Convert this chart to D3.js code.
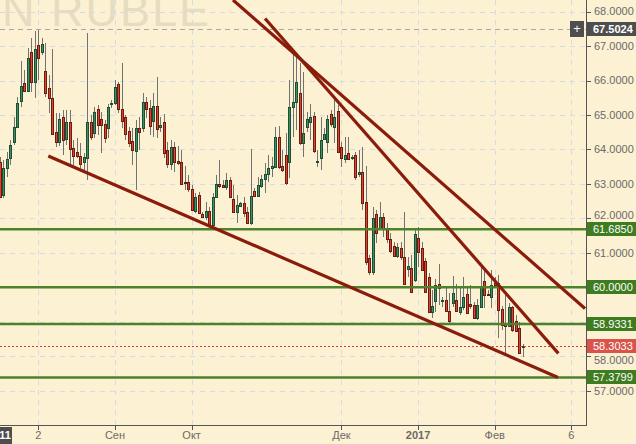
<!DOCTYPE html>
<html><head><meta charset="utf-8">
<script src="https://cdn.jsdelivr.net/npm/d3@7"></script>
<style>html,body{margin:0;padding:0;background:#fdf1d3;} svg{display:block}</style>
</head><body><svg id="c" width="636" height="444"></svg>
<script>
// ---- data (bar index = trading day, prices in RUB) ----
const opens  = [63.64,62.68,63.47,63.76,64.22,64.64,65.41,65.92,65.70,66.82,65.95,67.03,66.84,66.28,65.77,65.48,64.51,64.22,64.93,64.30,64.80,64.03,63.92,63.82,63.64,63.76,64.79,64.47,65.16,64.87,64.73,64.61,65.32,65.34,65.89,65.16,64.93,64.53,64.24,63.96,64.61,64.62,65.37,65.19,64.82,65.25,64.64,64.79,63.98,63.57,64.06,63.67,63.63,63.05,63.05,62.84,62.22,62.68,62.12,62.05,62.20,61.81,62.61,62.99,62.97,62.92,63.10,62.55,62.19,62.37,62.44,62.17,61.87,62.79,62.66,62.95,63.13,63.28,63.45,63.50,64.35,63.52,63.83,63.63,65.22,65.37,65.63,64.18,64.66,64.81,64.97,63.64,63.74,64.31,64.22,65.02,64.66,65.11,64.06,63.73,63.89,63.74,63.83,63.28,63.34,62.46,60.84,60.45,62.12,61.73,62.03,61.73,61.39,61.20,60.92,61.13,60.89,60.52,60.56,60.22,61.42,61.13,60.76,60.31,59.27,59.60,60.09,59.62,59.63,59.31,59.53,59.64,59.28,59.43,59.79,59.50,59.47,59.10,59.43,60.17,59.80,59.71,60.13,60.11,59.36,58.93,58.87,59.42,59.01,58.81,58.26];
const highs  = [63.79,63.69,63.93,64.27,64.95,65.53,66.57,66.31,66.94,67.22,67.44,67.47,67.22,67.08,66.16,66.91,65.05,65.07,65.14,65.14,65.14,64.27,64.32,64.18,63.89,67.37,65.00,65.24,65.29,65.09,64.85,65.32,65.43,66.01,65.97,66.50,65.00,64.66,64.61,64.85,64.95,65.63,65.52,65.43,65.64,66.09,64.95,65.03,64.22,64.27,64.22,64.10,63.98,63.52,63.26,62.97,62.73,62.77,62.19,62.48,62.34,62.73,63.26,63.69,63.11,63.31,63.21,62.97,62.68,62.48,62.63,62.34,64.00,62.87,63.21,63.26,63.60,63.84,63.79,64.66,64.68,63.98,64.47,66.01,66.89,66.81,66.50,66.26,65.09,65.32,65.09,63.98,64.93,64.61,65.00,65.14,65.53,65.29,64.22,64.35,64.37,63.84,63.93,63.98,64.08,63.52,60.94,62.34,62.24,62.48,62.16,61.86,61.56,61.32,61.27,61.32,62.19,60.89,60.94,61.71,61.76,61.32,60.84,60.40,59.92,60.24,60.67,59.72,60.04,59.82,60.32,60.09,60.04,60.29,60.04,60.06,59.58,59.65,60.59,60.53,59.92,60.50,60.30,60.35,59.45,59.77,59.53,59.45,59.19,59.00,58.34];
const lows   = [62.58,62.59,63.21,63.55,64.13,64.61,65.24,65.68,65.68,65.68,65.48,66.01,66.74,65.53,65.05,64.42,64.08,64.11,63.84,64.13,63.55,63.55,63.74,63.45,63.35,63.11,64.27,64.32,64.42,63.90,64.18,64.32,65.19,65.29,65.05,64.61,64.27,64.08,63.55,62.82,63.98,64.51,64.91,64.42,64.37,64.32,64.51,63.74,63.45,63.40,63.35,63.55,62.97,62.82,62.77,62.22,62.15,62.12,62.00,61.95,61.76,61.76,62.58,62.87,62.87,62.82,62.61,62.15,61.85,62.34,62.05,61.85,61.81,62.63,62.63,62.87,62.74,63.06,63.21,63.45,63.42,63.35,62.97,63.16,64.37,64.56,64.13,63.79,64.51,64.27,63.89,63.50,63.40,64.27,63.89,64.66,64.18,63.89,63.50,63.60,63.69,63.69,63.11,63.21,62.24,60.64,60.35,60.35,61.27,61.66,61.47,61.27,60.98,60.87,60.84,60.79,60.06,60.30,59.82,60.16,60.60,60.46,59.83,59.24,59.12,59.27,59.48,59.43,59.27,58.97,59.43,59.27,59.18,59.34,59.24,59.37,59.07,59.05,59.40,59.41,59.75,59.41,60.04,58.52,58.76,58.03,58.85,58.71,58.71,58.06,57.98];
const closes = [62.63,63.45,63.71,64.13,64.64,65.34,65.84,65.70,66.65,65.95,66.91,66.65,67.05,65.65,65.48,64.44,64.22,64.87,64.27,64.80,64.00,63.82,63.82,63.59,63.77,64.79,64.35,65.08,64.71,64.71,64.32,65.22,65.35,65.80,65.16,64.83,64.44,64.18,63.97,64.61,64.51,65.38,65.16,64.69,65.25,64.58,64.70,63.89,63.57,64.06,63.64,63.61,62.99,63.02,62.84,62.24,62.61,62.16,62.03,62.20,61.81,62.61,62.99,62.94,62.92,63.10,62.63,62.19,62.39,62.44,62.15,61.87,62.65,62.66,62.96,63.14,63.29,63.47,63.52,64.35,63.50,63.40,63.02,65.22,65.37,65.97,64.18,64.47,64.87,64.93,63.96,63.66,64.27,64.44,64.87,64.75,64.95,63.93,63.74,63.85,63.73,63.78,63.21,63.34,62.44,60.74,60.45,62.00,61.56,62.03,61.73,61.39,61.05,60.92,61.18,60.89,60.08,60.62,59.85,61.54,61.02,60.49,59.85,59.27,59.45,60.06,59.99,59.64,59.30,59.01,59.82,59.30,59.42,59.71,59.24,59.46,59.10,59.47,60.03,59.76,59.78,60.05,60.06,59.33,58.90,58.87,59.42,58.76,58.73,58.08,58.3033];

const levelValues = [61.6850, 60.0000, 58.9331, 57.3799];
const lastPrice = 58.3033;
const crosshairPrice = 67.5024;
const crosshairDayLabel = "11";
const priceTicks = [57,58,59,60,61,62,63,64,65,66,67,68];
const dateTickIdx = [11, 33, 55, 98, 120, 142, 164];
const dateTickLabels = ["2", "Сен", "Окт", "Дек", "2017", "Фев", "6"];
const trendLines = [
  [{i:13.86, v:63.81}, {i:160.17, v:57.38}],
  [{i:66.88, v:68.337}, {i:167.92, v:59.38}],
  [{i:76.07, v:67.80}, {i:160.26, v:58.08}]
];
const watermark = "N RUBLE";

// ---- layout ----
const W = 636, H = 444, PR = 586, PB = 425;
const svg = d3.select("#c");
const x = d3.scaleLinear().domain([0, 168.2]).range([0, PR]);
const y = d3.scaleLinear().domain([56, 68.337]).range([PB, 0]);
const font = "'Liberation Sans', Arial, sans-serif";
const crisp = v => Math.round(v) + 0.5;
const BOXH = 14;

svg.append("rect").attr("width", W).attr("height", H).attr("fill", "#fdf1d3");
svg.append("clipPath").attr("id","clip").append("rect").attr("width", PR).attr("height", PB);
const plot = svg.append("g").attr("clip-path","url(#clip)");

// watermark (partly above the top edge, as in the source)
plot.append("text").attr("x", 2).attr("y", 26).attr("font-family", font)
  .attr("font-size", 45).attr("letter-spacing", 2).attr("fill", "#e6dcc0").text(watermark);

// grid
plot.append("g").selectAll("line").data(priceTicks).join("line")
  .attr("x1", 0).attr("x2", PR).attr("y1", d => crisp(y(d))).attr("y2", d => crisp(y(d)))
  .attr("stroke", "#d6dbe4").attr("stroke-dasharray", "5,5");
plot.append("g").selectAll("line").data(dateTickIdx).join("line")
  .attr("y1", 0).attr("y2", PB).attr("x1", d => crisp(x(d))).attr("x2", d => crisp(x(d)))
  .attr("stroke", "#d6dbe4").attr("stroke-dasharray", "5,5");

// crosshair
plot.append("line").attr("x1", 0).attr("x2", PR)
  .attr("y1", crisp(y(crosshairPrice))).attr("y2", crisp(y(crosshairPrice)))
  .attr("stroke", "#a8a8a8").attr("stroke-dasharray", "5,4");

// candles
const data = opens.map((o, i) => ({i, o, h: highs[i], l: lows[i], c: closes[i]}));
const cg = plot.append("g");
cg.selectAll("line").data(data).join("line")
  .attr("x1", d => crisp(x(d.i))).attr("x2", d => crisp(x(d.i)))
  .attr("y1", d => Math.round(y(d.h))).attr("y2", d => Math.round(y(d.l)))
  .attr("stroke", "#727272").attr("stroke-width", 1);
cg.selectAll("rect").data(data).join("rect")
  .attr("x", d => Math.round(x(d.i)) - 0.5).attr("width", 2)
  .attr("y", d => Math.round(y(Math.max(d.o, d.c))) + 0.5)
  .attr("height", d => Math.max(1, Math.round(y(Math.min(d.o, d.c))) - Math.round(y(Math.max(d.o, d.c)))))
  .attr("fill", d => d.c >= d.o ? "#3a9163" : "#dc4430")
  .attr("stroke", d => d.c >= d.o ? "#1f4d33" : "#6b1b10").attr("stroke-width", 1);

// horizontal levels
plot.append("g").selectAll("line").data(levelValues).join("line")
  .attr("x1", 0).attr("x2", PR).attr("y1", d => y(d)).attr("y2", d => y(d))
  .attr("stroke", "#4b822b").attr("stroke-width", 2.5);
plot.append("line").attr("x1", 0).attr("x2", PR)
  .attr("y1", crisp(y(lastPrice))).attr("y2", crisp(y(lastPrice)))
  .attr("stroke", "#e0392b").attr("stroke-dasharray", "2,2");

// trend lines
const lineGen = d3.line().x(d => x(d.i)).y(d => y(d.v));
plot.append("g").selectAll("path").data(trendLines).join("path")
  .attr("d", lineGen).attr("fill", "none").attr("stroke", "#8a1c0c").attr("stroke-width", 3.2);

// axes
svg.append("line").attr("x1", PR + 0.5).attr("x2", PR + 0.5).attr("y1", 0).attr("y2", PB + 1)
  .attr("stroke", "#555");
svg.append("line").attr("x1", 0).attr("x2", PR + 1).attr("y1", PB + 0.5).attr("y2", PB + 0.5)
  .attr("stroke", "#555");
const boxed = levelValues.concat([lastPrice, crosshairPrice]);
// tick labels hidden behind a price box (as the source's axis does)
const visibleTicks = priceTicks.filter(t => !boxed.some(b => Math.abs(y(b) - y(t)) < 8));
// nudge a label that sits right next to a box so the two do not touch
function nudge(t) {
  let off = 0;
  boxed.forEach(b => {
    const d = y(t) - y(b);
    if (Math.abs(d) < 14) off += Math.sign(d) * (14 - Math.abs(d));
  });
  return off;
}
const ya = svg.append("g");
ya.selectAll("line").data(priceTicks).join("line")
  .attr("x1", PR).attr("x2", PR + 5).attr("y1", d => crisp(y(d))).attr("y2", d => crisp(y(d)))
  .attr("stroke", "#555");
ya.selectAll("text").data(visibleTicks).join("text")
  .attr("x", PR + 8).attr("y", d => y(d) + nudge(d)).attr("dy", "0.35em")
  .attr("font-family", font).attr("font-size", 11).attr("fill", "#6a6a6a")
  .text(d => d3.format(".4f")(d));
const xa = svg.append("g");
xa.selectAll("line").data(dateTickIdx).join("line")
  .attr("x1", d => crisp(x(d))).attr("x2", d => crisp(x(d))).attr("y1", PB).attr("y2", PB + 5)
  .attr("stroke", "#555");
xa.selectAll("text").data(dateTickIdx).join("text")
  .attr("x", d => x(d)).attr("y", 439).attr("text-anchor", "middle")
  .attr("font-family", font).attr("font-size", 11).attr("fill", "#6a6a6a")
  .attr("font-weight", (d, k) => dateTickLabels[k] === "2017" ? "bold" : "normal")
  .text((d, k) => dateTickLabels[k]);

// price labels
function priceLabel(v, fill, bold) {
  const g = svg.append("g");
  g.append("rect").attr("x", PR + 1).attr("y", Math.round(y(v) - BOXH / 2)).attr("width", W - PR - 1).attr("height", BOXH).attr("fill", fill);
  g.append("text").attr("x", PR + 7).attr("y", y(v)).attr("dy", "0.36em")
    .attr("font-family", font).attr("font-size", 11).attr("fill", "#fff")
    .attr("font-weight", bold ? "bold" : "normal").text(d3.format(".4f")(v));
}
levelValues.forEach(v => priceLabel(v, "#3e7c1f", false));
priceLabel(lastPrice, "#d9534a", false);
priceLabel(crosshairPrice, "#4e4e4e", true);
// crosshair "+" button
svg.append("rect").attr("x", 570).attr("y", Math.round(y(crosshairPrice) - 8)).attr("width", 14).attr("height", 16).attr("fill", "#4e4e4e");
svg.append("text").attr("x", 577).attr("y", y(crosshairPrice)).attr("dy", "0.36em").attr("text-anchor", "middle")
  .attr("font-family", font).attr("font-size", 13).attr("fill", "#fff").text("+");
// crosshair date label
svg.append("rect").attr("x", 0).attr("y", PB + 2).attr("width", 12).attr("height", H - PB - 2).attr("fill", "#4e4e4e");
svg.append("text").attr("x", 11).attr("y", 439).attr("text-anchor", "end")
  .attr("font-family", font).attr("font-size", 11).attr("font-weight", "bold").attr("fill", "#fff").text(crosshairDayLabel);
</script></body></html>
